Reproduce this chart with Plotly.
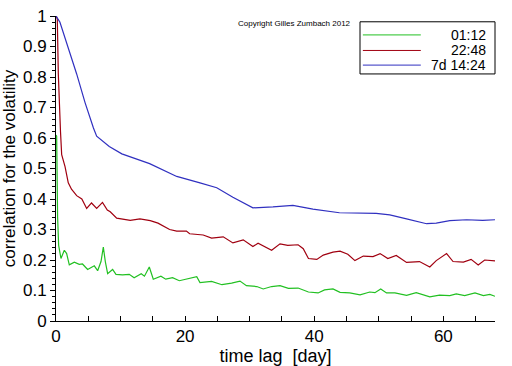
import plotly.graph_objects as go

# ---- data ----
green_x = [0.0, 0.1, 0.25, 0.41, 0.77, 1.29, 1.65, 2.06, 2.84, 3.6, 4.1, 4.9, 5.93, 6.45, 6.97,
           7.33, 7.64, 8.0, 8.77, 9.29, 10.3, 11.35, 12.1, 13.2, 13.7, 14.45, 15.07, 16.25, 17.0,
           18.06, 19.1, 20.0, 21.0, 21.8, 22.3, 24.1, 25.7, 27.2, 28.5, 29.5, 31.1, 32.1, 33.4,
           34.7, 36.0, 37.5, 39.1, 40.6, 41.6, 42.9, 44.0, 45.5, 47.1, 48.6, 49.4, 50.3, 51.2,
           52.5, 54.3, 55.8, 57.9, 59.4, 61.0, 62.0, 63.3, 64.9, 66.2, 67.2, 68.0]
green_y = [0.61, 0.606, 0.34, 0.248, 0.205, 0.232, 0.221, 0.184, 0.193, 0.186, 0.187, 0.169, 0.181,
           0.165, 0.195, 0.242, 0.195, 0.155, 0.169, 0.153, 0.151, 0.153, 0.142, 0.155, 0.147,
           0.177, 0.137, 0.147, 0.137, 0.142, 0.132, 0.136, 0.140, 0.145, 0.126, 0.130, 0.119,
           0.124, 0.131, 0.116, 0.113, 0.105, 0.113, 0.116, 0.107, 0.108, 0.095, 0.092, 0.102,
           0.105, 0.094, 0.092, 0.086, 0.095, 0.093, 0.105, 0.092, 0.092, 0.084, 0.093, 0.079,
           0.085, 0.083, 0.089, 0.083, 0.092, 0.083, 0.087, 0.081]

red_x = [0.05, 0.2, 0.36, 0.5, 0.7, 0.88, 1.4, 1.9, 2.4, 3.2, 4.0, 4.75, 5.5, 6.3, 7.2, 7.95, 8.4,
         9.4, 11.5, 13.0, 14.6, 15.8, 17.6, 18.7, 20.2, 20.7, 22.8, 24.1, 25.9, 27.4, 29.0, 30.5,
         31.3, 33.4, 34.7, 35.9, 37.5, 38.3, 39.1, 40.4, 41.4, 42.9, 44.0, 45.2, 46.3, 47.6, 49.1,
         50.2, 51.4, 52.7, 54.3, 56.3, 57.9, 58.9, 60.5, 61.5, 63.1, 64.3, 65.4, 66.4, 68.0]
red_y = [1.0, 0.99, 0.81, 0.70, 0.62, 0.545, 0.506, 0.453, 0.432, 0.411, 0.400, 0.369, 0.387, 0.369,
         0.389, 0.364, 0.358, 0.337, 0.330, 0.335, 0.329, 0.321, 0.300, 0.295, 0.295, 0.286, 0.282,
         0.272, 0.276, 0.256, 0.266, 0.244, 0.255, 0.232, 0.253, 0.248, 0.250, 0.237, 0.205, 0.202,
         0.216, 0.226, 0.229, 0.219, 0.198, 0.213, 0.211, 0.221, 0.205, 0.215, 0.192, 0.195, 0.177,
         0.198, 0.221, 0.195, 0.193, 0.202, 0.184, 0.200, 0.197]

blue_x = [0.0, 0.6, 3.2, 4.5, 5.8, 6.3, 8.25, 10.2, 14.5, 18.7, 22.3, 24.9, 27.4, 30.5, 33.6, 36.7,
          39.8, 43.9, 49.6, 51.7, 54.3, 57.4, 58.9, 61.0, 63.6, 66.1, 68.0]
blue_y = [1.0, 0.98, 0.81, 0.716, 0.633, 0.606, 0.572, 0.548, 0.516, 0.474, 0.453, 0.437, 0.406,
          0.371, 0.374, 0.379, 0.367, 0.355, 0.353, 0.348, 0.335, 0.319, 0.321, 0.329, 0.332, 0.330,
          0.332]

series_names = ["01:12", "22:48", "7d 14:24"]
series_colors = ["#22c022", "#a00010", "#3030c0"]

x_ticks = [0, 20, 40, 60]
y_ticks = [0, 0.1, 0.2, 0.3, 0.4, 0.5, 0.6, 0.7, 0.8, 0.9, 1]
y_labels = ["0", "0.1", "0.2", "0.3", "0.4", "0.5", "0.6", "0.7", "0.8", "0.9", "1"]

FONT = "Liberation Sans Narrow, Liberation Sans"
TFONT = "Liberation Sans"

fig = go.Figure()
for xs, ys, name, col in zip([green_x, red_x, blue_x], [green_y, red_y, blue_y],
                             series_names, series_colors):
    fig.add_trace(go.Scatter(x=xs, y=ys, mode="lines", name=name,
                             line=dict(color=col, width=1.2), showlegend=False))

fig.update_layout(
    width=512, height=366,
    margin=dict(l=56, r=17, t=7, b=43),
    paper_bgcolor="white", plot_bgcolor="white",
    font=dict(family=FONT, color="black", size=16),
)
fig.update_xaxes(
    range=[0, 68], tickvals=x_ticks, ticks="inside", ticklen=5, tickcolor="black",
    showline=True, linecolor="black", linewidth=1, showgrid=False, zeroline=False,
    minor=dict(dtick=5, ticks="inside", ticklen=5, tickcolor="black"),
    tickfont=dict(size=17, family=FONT), ticklabeloverflow="allow",
    title=dict(text="time lag  [day]", font=dict(size=18, family=TFONT), standoff=0),
)
fig.update_yaxes(
    range=[0, 1], tickvals=y_ticks, ticktext=y_labels, ticks="outside", ticklen=5,
    tickcolor="black", showline=True, linecolor="black", linewidth=1, showgrid=False,
    zeroline=False, ticklabeloverflow="allow",
    minor=dict(dtick=0.02, ticks="outside", ticklen=3, tickcolor="black"),
    tickfont=dict(size=17, family=FONT),
    title=dict(text="correlation for the volatility", font=dict(size=17, family=TFONT), standoff=4),
)

# manual legend box
fig.add_shape(type="rect", xref="paper", yref="paper", x0=0.6925, x1=1.0, y0=0.81, y1=0.981,
              line=dict(color="black", width=1), fillcolor="white")
legend_y = [0.938, 0.887, 0.839]
for name, col, ly in zip(series_names, series_colors, legend_y):
    fig.add_shape(type="line", xref="paper", yref="paper", x0=0.699, x1=0.831, y0=ly, y1=ly,
                  line=dict(color=col, width=1))
    fig.add_annotation(xref="paper", yref="paper", x=0.985, y=ly, text=name, showarrow=False,
                       xanchor="right", yanchor="middle", font=dict(size=14, family=FONT))

fig.add_annotation(xref="paper", yref="paper", x=0.677, y=0.975,
                   text="Copyright Gilles Zumbach 2012", showarrow=False,
                   xanchor="right", yanchor="middle", font=dict(size=8, family=TFONT))

fig.write_html("out.html", config={"displayModeBar": False},
               post_script="document.body.style.margin='0';document.body.style.overflow='hidden';")
